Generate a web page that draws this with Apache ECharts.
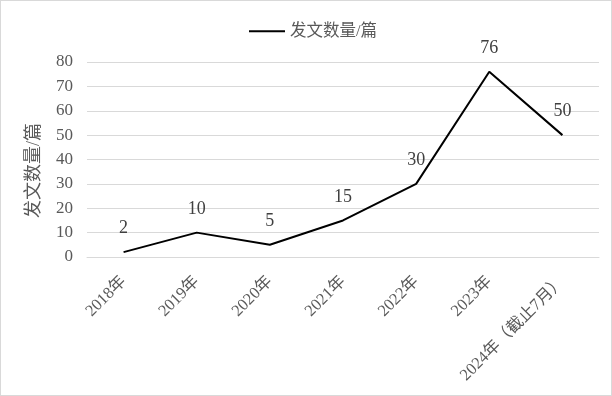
<!DOCTYPE html>
<html><head><meta charset="utf-8">
<script src="https://cdn.jsdelivr.net/npm/echarts@6/dist/echarts.min.js"></script>
<style>
html,body{margin:0;padding:0;background:#fff;}
#c{width:610px;height:394px;border:1px solid #d9d9d9;}
</style></head>
<body><div id="c"></div>
<script>
const categories = ['2018年','2019年','2020年','2021年','2022年','2023年','2024年（截止7月）'];
const seriesName = '发文数量/篇';
const values = [2, 10, 5, 15, 30, 76, 50];
const yAxisName = '发文数量/篇';

const FONT = "'Liberation Serif', 'Noto Sans CJK SC', serif";
const chart = echarts.init(document.getElementById('c'));
chart.setOption({
  animation: false,
  textStyle: {fontFamily: FONT},
  legend: {
    top: 17, left: 243,
    itemWidth: 36, itemHeight: 14, itemGap: 4,
    icon: 'path://M0,6 L36,6 L36,8 L0,8 Z',
    itemStyle: {color: '#000', opacity: 1, borderWidth: 0},
    textStyle: {fontFamily: FONT, fontSize: 16.5, color: '#595959'},
    data: [seriesName]
  },
  grid: {left: 86, right: 12, top: 61, bottom: 138},
  xAxis: {
    type: 'category', data: categories, boundaryGap: true,
    axisLine: {lineStyle: {color: '#d9d9d9'}},
    axisTick: {show: false},
    axisLabel: {rotate: 45, fontSize: 16.5, color: '#595959', fontFamily: FONT, margin: 22, interval: 0}
  },
  yAxis: {
    type: 'value', min: 0, max: 80, interval: 10,
    name: yAxisName, nameLocation: 'middle', nameGap: 44, nameRotate: 90,
    nameTextStyle: {fontSize: 18, color: '#595959', fontFamily: FONT, padding: [0, 22, 0, 0]},
    axisLine: {show: false}, axisTick: {show: false},
    splitLine: {lineStyle: {color: '#d9d9d9'}},
    axisLabel: {fontSize: 17, color: '#595959', fontFamily: FONT, margin: 14}
  },
  series: [{
    name: seriesName, type: 'line', data: values,
    symbol: 'circle', symbolSize: 1, showSymbol: true,
    lineStyle: {color: '#000', width: 2},
    itemStyle: {color: '#000', opacity: 0},
    label: {show: true, position: 'top', distance: 14, fontSize: 18, color: '#404040', fontFamily: FONT, opacity: 1}
  }]
});
</script></body></html>
